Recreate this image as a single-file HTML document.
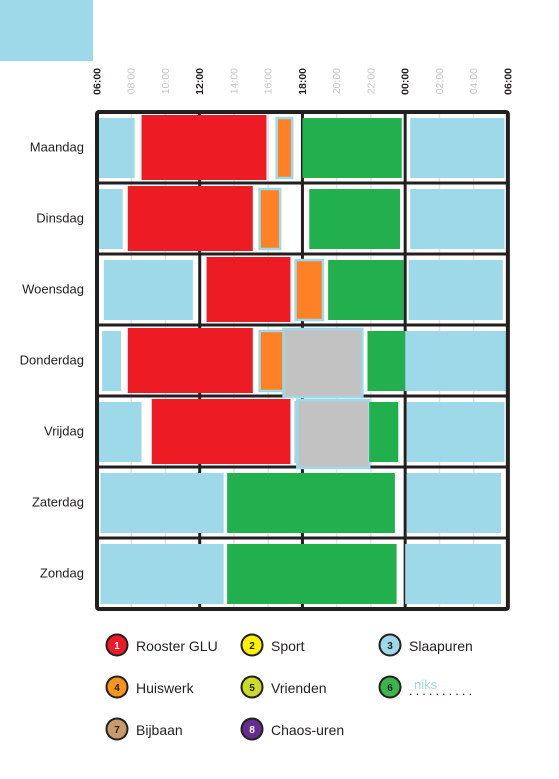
<!DOCTYPE html>
<html><head><meta charset="utf-8">
<style>
html,body{margin:0;padding:0;background:#fff;width:559px;height:779px;overflow:hidden}
svg{display:block;font-family:"Liberation Sans",sans-serif}
</style></head>
<body>
<svg id="chart" width="559" height="779" viewBox="0 0 559 779">
<rect x="0" y="0" width="93" height="61" fill="#9dd9e8"/>
<g id="grid"></g><g id="blocks"></g><g id="frame"></g><g id="labels"></g><g id="legend"></g>
</svg>
<script>
const days = ["Maandag","Dinsdag","Woensdag","Donderdag","Vrijdag","Zaterdag","Zondag"];
const tickHours = [6,8,10,12,14,16,18,20,22,24,26,28,30];
const tickLabels = ["06:00","08:00","10:00","12:00","14:00","16:00","18:00","20:00","22:00","00:00","02:00","04:00","06:00"];
const categoryColors = {sleep:"#9dd9e8",glu:"#ed1c24",homework:"#ff8126",friends:"#c2c2c2",free:"#22b04f"};
// blocks: day index, start hour, end hour, category
const blockDay =   [0,0,0,0,0, 1,1,1,1,1, 2,2,2,2,2, 3,3,3,3,3,3, 4,4,4,4,4,4, 5,5,5, 6,6,6];
const blockStart = [6.1,8.6,16.5,18.0,24.3, 6.0,7.8,15.5,18.4,24.3, 6.4,12.4,17.6,19.5,24.2, 6.3,7.8,15.5,16.9,21.8,24.0, 6.0,9.2,17.6,17.7,21.9,24.1, 6.2,13.6,24.1, 6.2,13.6,24.0];
const blockEnd =   [8.2,15.9,17.4,23.8,29.8, 7.5,15.1,16.7,23.7,29.8, 11.6,17.3,19.2,23.9,29.7, 7.4,15.1,16.9,21.5,24.0,30.1, 8.6,17.3,17.8,21.9,23.6,29.8, 13.4,23.4,29.6, 13.4,23.5,29.6];
const blockCat =   ["sleep","glu","homework","free","sleep", "sleep","glu","homework","free","sleep", "sleep","glu","homework","free","sleep", "sleep","glu","homework","friends","free","sleep", "sleep","glu","homework","friends","free","sleep", "sleep","free","sleep", "sleep","free","sleep"];

const NS="http://www.w3.org/2000/svg";
const X0=97, PX=17.12, Y0=112, RH=71;
const x=h=>X0+(h-6)*PX;
const yRow=d=>Y0+d*RH;
function mk(tag,attrs,parent){const e=document.createElementNS(NS,tag);for(const k in attrs)e.setAttribute(k,attrs[k]);parent.appendChild(e);return e;}
const grid=document.getElementById('grid'),blocks=document.getElementById('blocks'),frame=document.getElementById('frame'),labels=document.getElementById('labels');
tickHours.forEach((h,i)=>{
  const l=mk('line',{x1:x(h),x2:x(h),y1:Y0,y2:yRow(7),stroke:'#e2e2e2','stroke-width':1.5},grid);
  
  
  const major=(h%6===0);
  const t=mk('text',{x:0,y:0,'font-size':10.5,fill:major?'#231f20':'#c8c8c8','font-weight':major?'bold':'normal','text-anchor':'end',transform:`translate(${x(h)+3.5},68) rotate(-90)`},labels);
  t.textContent=tickLabels[i];
  
  
});
[12,18,24].forEach(h=>{
  const l=mk('line',{x1:x(h),x2:x(h),y1:Y0,y2:yRow(7),stroke:'#231f20','stroke-width':3},grid);
  
  
});
for(let d=1;d<7;d++){
  const l=mk('line',{x1:X0,x2:x(30),y1:yRow(d),y2:yRow(d),stroke:'#231f20','stroke-width':3},grid);
  
  
}
blockDay.forEach((d,i)=>{
  const c=blockCat[i];
  const top=yRow(d)+(c==='glu'?3:c==='friends'?4:6), bot=yRow(d)+RH-(c==='glu'?3:c==='friends'?-1:5);
  const bordered=(c==='homework'||c==='friends');
  const r=mk('rect',{x:x(blockStart[i]),y:top,width:Math.max(1,x(blockEnd[i])-x(blockStart[i])),height:bot-top,fill:categoryColors[c],stroke:bordered?'#9dd9e8':'none','stroke-width':bordered?2.5:0},blocks);
  
  
});
const f=mk('rect',{x:X0,y:Y0,width:x(30)-X0,height:RH*7,fill:'none',stroke:'#231f20','stroke-width':4,rx:2},frame);


days.forEach((n,d)=>{
  const t=mk('text',{x:84,y:yRow(d)+RH/2+4,'font-size':13,fill:'#231f20','text-anchor':'end'},labels);
  t.textContent=n;
  
  
});
const legNums=["1","2","3","4","5","6","7","8"];
const legText=["Rooster GLU","Sport","Slaapuren","Huiswerk","Vrienden","","Bijbaan","Chaos-uren"];
const legFill=["#ed1c24","#fff200","#9dd9e8","#f7941d","#cbdb2a","#39b54a","#c69c6d","#662d91"];
const legNumCol=["#fff","#231f20","#231f20","#231f20","#231f20","#231f20","#231f20","#fff"];
const lg=document.getElementById('legend');
legNums.forEach((n,i)=>{
  const cx=[117,252,390][i%3], cy=[645,687,729][Math.floor(i/3)];
  const g=mk('g',{},lg);
  
  
  mk('circle',{cx:cx,cy:cy,r:10.5,fill:legFill[i],stroke:'#231f20','stroke-width':2},g);
  const nt=mk('text',{x:cx,y:cy+4,'font-size':10,'font-weight':'bold','text-anchor':'middle',fill:legNumCol[i]},g);
  nt.textContent=n;
  const t=mk('text',{x:cx+19,y:cy+6,'font-size':14,fill:'#231f20'},g);
  t.textContent=legText[i];
});
const nk=mk('text',{x:414,y:689,'font-size':13,fill:'#9dd9e8'},lg);nk.textContent='niks';


const dots=mk('text',{x:409,y:695,'font-size':13,fill:'#231f20','letter-spacing':'3'},lg);dots.textContent='..........';


</script>
</body></html>
